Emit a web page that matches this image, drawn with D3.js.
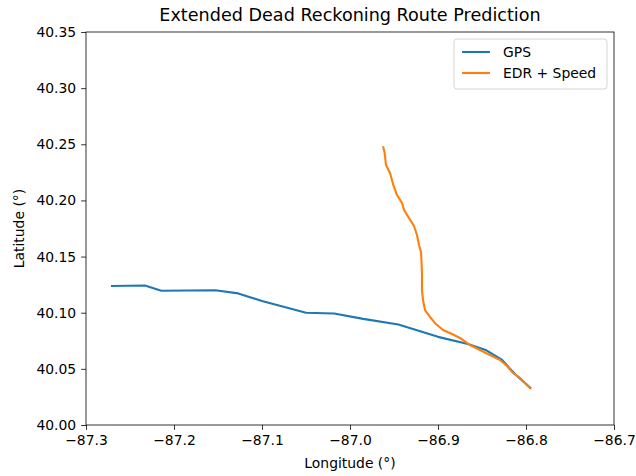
<!DOCTYPE html>
<html>
<head>
<meta charset="utf-8">
<script src="https://cdn.jsdelivr.net/npm/d3@7"></script>
<style>
  body { margin: 0; background: #fff; }
  svg text { font-family: "DejaVu Sans", sans-serif; fill: #000; }
</style>
</head>
<body>
<div id="chart"></div>
<script>
// GPS track [lon, lat]
const gpsLon = [-87.2705, -87.233, -87.2145, -87.153, -87.127, -87.100, -87.050, -87.018,
  -86.985, -86.945, -86.900, -86.866, -86.845, -86.828, -86.812, -86.795];
const gpsLat = [40.1238, 40.1243, 40.1195, 40.1200, 40.1172, 40.1105, 40.1000, 40.0993,
  40.0945, 40.0895, 40.0785, 40.0722, 40.0665, 40.0585, 40.0450, 40.0330];

// EDR + Speed prediction [lon, lat]
const edrLon = [-86.9622, -86.9608, -86.9597, -86.9591, -86.9545, -86.9511, -86.9466, -86.9409,
  -86.9386, -86.9330, -86.9273, -86.9239, -86.9216, -86.9193, -86.9187, -86.9182, -86.9182,
  -86.9170, -86.9148, -86.9091, -86.9023, -86.8943, -86.8841, -86.8750, -86.8636, -86.8523,
  -86.8409, -86.8295, -86.8216, -86.8148, -86.8068, -86.8011, -86.7955];
const edrLat = [40.2473, 40.2431, 40.2360, 40.2315, 40.2244, 40.2146, 40.2048, 40.1977,
  40.1915, 40.1843, 40.1772, 40.1692, 40.1603, 40.1541, 40.1452, 40.1336, 40.1202,
  40.1113, 40.1024, 40.0962, 40.0899, 40.0846, 40.0810, 40.0775, 40.0712, 40.0668,
  40.0623, 40.0579, 40.0525, 40.0463, 40.0419, 40.0374, 40.0330];

const xTicks = [-87.3, -87.2, -87.1, -87.0, -86.9, -86.8, -86.7];
const yTicks = [40.00, 40.05, 40.10, 40.15, 40.20, 40.25, 40.30, 40.35];

const series = [
  { name: "GPS", color: "#1f77b4", lon: gpsLon, lat: gpsLat },
  { name: "EDR + Speed", color: "#ff7f0e", lon: edrLon, lat: edrLat }
];

const width = 636, height = 476;
const margin = { top: 32, right: 22, bottom: 51, left: 86 };

const svg = d3.select("#chart").append("svg")
  .attr("width", width)
  .attr("height", height);

const x = d3.scaleLinear().domain([-87.3, -86.7]).range([margin.left, width - margin.right]);
const y = d3.scaleLinear().domain([40.0, 40.35]).range([height - margin.bottom, margin.top]);

const fmtX = d => d3.format(".1f")(d).replace("-", "\u2212");

const xAxis = svg.append("g")
  .attr("transform", `translate(0,${height - margin.bottom})`)
  .call(d3.axisBottom(x).tickValues(xTicks).tickFormat(fmtX).tickSize(4.9).tickPadding(4.9));

const yAxis = svg.append("g")
  .attr("transform", `translate(${margin.left},0)`)
  .call(d3.axisLeft(y).tickValues(yTicks).tickFormat(d3.format(".2f")).tickSize(4.9).tickPadding(4.9));

[xAxis, yAxis].forEach(g => {
  g.select(".domain").remove();
  g.selectAll("line").attr("stroke", "#000").attr("stroke-width", 0.8);
  g.selectAll("text").attr("font-size", 13.9).attr("font-family", "DejaVu Sans, sans-serif");
});

// frame
svg.append("rect")
  .attr("x", margin.left)
  .attr("y", margin.top)
  .attr("width", width - margin.left - margin.right)
  .attr("height", height - margin.top - margin.bottom)
  .attr("fill", "none")
  .attr("stroke", "#000")
  .attr("stroke-width", 0.8);

const line = d3.line().x(d => x(d[0])).y(d => y(d[1]));

svg.append("g")
  .selectAll("path")
  .data(series)
  .join("path")
  .attr("d", s => line(s.lon.map((v, i) => [v, s.lat[i]])))
  .attr("fill", "none")
  .attr("stroke", s => s.color)
  .attr("stroke-width", 2.1)
  .attr("stroke-linejoin", "round")
  .attr("stroke-linecap", "square");

// title and axis labels
svg.append("text")
  .attr("x", (margin.left + width - margin.right) / 2)
  .attr("y", 21)
  .attr("text-anchor", "middle")
  .attr("font-size", 17.6)
  .text("Extended Dead Reckoning Route Prediction");

svg.append("text")
  .attr("x", (margin.left + width - margin.right) / 2)
  .attr("y", 468)
  .attr("text-anchor", "middle")
  .attr("font-size", 13.9)
  .text("Longitude (°)");

svg.append("text")
  .attr("transform", `translate(24,${(margin.top + height - margin.bottom) / 2}) rotate(-90)`)
  .attr("text-anchor", "middle")
  .attr("font-size", 13.9)
  .text("Latitude (°)");

// legend
const legend = svg.append("g").attr("transform", "translate(454,39)");
legend.append("rect")
  .attr("width", 153)
  .attr("height", 50)
  .attr("rx", 3)
  .attr("fill", "#fff")
  .attr("fill-opacity", 0.8)
  .attr("stroke", "#ccc")
  .attr("stroke-width", 0.8);

const item = legend.selectAll("g.item")
  .data(series)
  .join("g")
  .attr("class", "item")
  .attr("transform", (d, i) => `translate(0,${13 + i * 21})`);

item.append("line")
  .attr("x1", 8).attr("x2", 36)
  .attr("stroke", d => d.color)
  .attr("stroke-width", 2.1);

item.append("text")
  .attr("x", 49)
  .attr("dy", "0.35em")
  .attr("font-size", 13.9)
  .text(d => d.name);
</script>
</body>
</html>
